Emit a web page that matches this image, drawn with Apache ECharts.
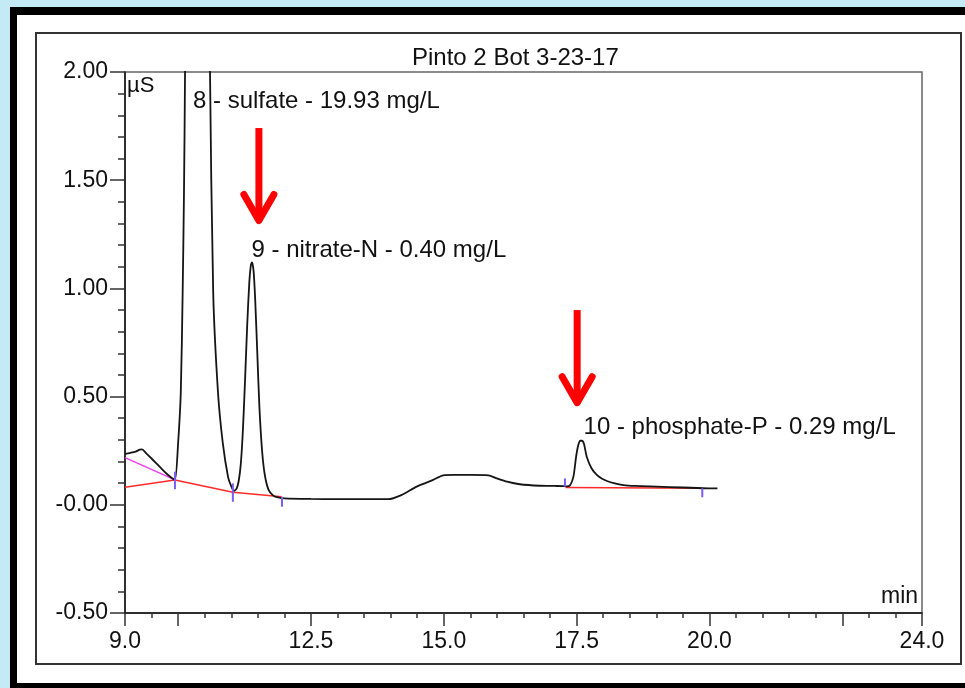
<!DOCTYPE html>
<html>
<head>
<meta charset="utf-8">
<script src="https://cdn.jsdelivr.net/npm/echarts@6/dist/echarts.min.js"></script>
<style>
  html, body { margin: 0; padding: 0; width: 965px; height: 688px; overflow: hidden; background: #c3eaf5; }
  #outer { position: absolute; left: 10px; top: 7px; width: 980px; height: 700px; background: #000; }
  #white { position: absolute; left: 17px; top: 15px; width: 980px; height: 668px; background: #fff; }
  #inner { position: absolute; left: 35px; top: 32px; width: 927px; height: 633px; border: 2px solid #333; box-sizing: border-box; }
  #chart { position: absolute; left: 0; top: 0; width: 965px; height: 688px; }
</style>
</head>
<body>
<div id="outer"></div>
<div id="white"></div>
<div id="inner"></div>
<div id="chart"></div>
<script>
// ---- Data ----
const chartTitle = 'Pinto 2 Bot 3-23-17';
const yUnit = 'µS';
const xUnit = 'min';

const xLabelValues = [9.0, 12.5, 15.0, 17.5, 20.0, 24.0];
const xMajorTickValues = [9.0, 10.0, 12.5, 15.0, 17.5, 20.0, 22.5, 24.0];

// chromatogram signal (time in min, conductivity in µS)
const curveTime = [
  9.00, 9.10, 9.20, 9.28, 9.32, 9.40, 9.50, 9.60, 9.70, 9.80, 9.88, 9.94,
  10.00, 10.05, 10.085, 10.11, 10.13, 10.20, 10.30, 10.37, 10.45, 10.55, 10.60,
  10.66, 10.75, 10.84, 10.94, 11.00, 11.05,
  11.10, 11.14, 11.18, 11.22, 11.26, 11.30, 11.34, 11.37, 11.39, 11.42, 11.45, 11.49, 11.53, 11.58, 11.63, 11.70, 11.78, 11.86,
  12.00, 12.50, 13.00, 13.50, 13.95,
  14.20, 14.49, 14.80, 14.99, 15.20, 15.50, 15.84, 16.00, 16.19, 16.43, 16.81, 17.10, 17.29,
  17.32, 17.38, 17.44, 17.49, 17.53, 17.57, 17.60, 17.64, 17.69, 17.78, 17.88, 17.98, 18.07, 18.20, 18.38, 18.60, 19.00, 19.50, 20.00, 20.15
];
const curveValue = [
  0.235, 0.240, 0.246, 0.255, 0.256, 0.238, 0.214, 0.189, 0.164, 0.140, 0.124, 0.115,
  0.286, 0.52, 0.98, 1.44, 2.0, 5.0, 8.5, 9.3, 8.0, 3.6, 2.0,
  0.98, 0.52, 0.286, 0.128, 0.085, 0.065,
  0.075, 0.11, 0.19, 0.35, 0.58, 0.83, 1.03, 1.11, 1.12, 1.08, 0.95, 0.70, 0.45, 0.25, 0.14, 0.07, 0.045, 0.035,
  0.030, 0.027, 0.026, 0.026, 0.026,
  0.045, 0.084, 0.115, 0.136, 0.138, 0.138, 0.136, 0.122, 0.107, 0.095, 0.088, 0.087, 0.086,
  0.085, 0.092, 0.13, 0.222, 0.275, 0.296, 0.296, 0.28, 0.222, 0.169, 0.138, 0.12, 0.11, 0.10, 0.091, 0.087, 0.084, 0.080, 0.076, 0.076
];

// integration baselines
const redBaseTime1 = [9.00, 9.94, 11.03, 11.95];
const redBaseValue1 = [0.081, 0.115, 0.058, 0.037];
const redBaseTime2 = [17.29, 19.865];
const redBaseValue2 = [0.080, 0.076];
const magentaBaseTime = [9.00, 9.94];
const magentaBaseValue = [0.218, 0.115];

// peak delimiter markers (time, low, high)
const markerTime = [9.94, 11.03, 11.955, 17.28, 19.865];
const markerLow  = [0.072, 0.014, -0.009, 0.084, 0.035];
const markerHigh = [0.153, 0.099, 0.037, 0.122, 0.076];

// peak annotations (left edge time, centre value, text)
const annoTime  = [10.28, 11.38, 17.63];
const annoValue = [1.866, 1.177, 0.356];
const annoText  = ['8 - sulfate - 19.93 mg/L', '9 - nitrate-N - 0.40 mg/L', '10 - phosphate-P - 0.29 mg/L'];

// red arrows (time, top value, tip value)
const arrowTime = [11.52, 17.51];
const arrowTop  = [1.741, 0.90];
const arrowTip  = [1.30, 0.458];

// ---- Build chart ----
const FONT = 'Arial, "Liberation Sans", sans-serif';
const zip = (a, b) => a.map((v, i) => [v, b[i]]);

const chart = echarts.init(document.getElementById('chart'), null, { renderer: 'canvas' });

const option = {
  backgroundColor: 'transparent',
  animation: false,
  title: {
    text: chartTitle,
    left: 407, top: 41,
    textStyle: { fontFamily: FONT, fontSize: 24, fontWeight: 'normal', color: '#111' }
  },
  grid: { left: 125, right: 43, top: 72, bottom: 75, show: true, borderColor: '#666', borderWidth: 1.5, backgroundColor: 'transparent' },
  xAxis: [
    {
      type: 'value', min: 9, max: 24, position: 'bottom', offset: 0,
      axisLine: { show: true, onZero: false, lineStyle: { color: '#111', width: 1.5 } },
      axisTick: { show: true, customValues: xMajorTickValues, length: 13, lineStyle: { color: '#333', width: 1.5 } },
      axisLabel: { show: true, customValues: xLabelValues, margin: 17, fontFamily: FONT, fontSize: 23, color: '#111',
                   formatter: v => v.toFixed(1) },
      splitLine: { show: false }
    },
    {
      type: 'value', min: 9, max: 24, interval: 0.5, position: 'bottom', offset: 0,
      axisLine: { show: false, onZero: false },
      axisTick: { show: true, length: 5, lineStyle: { color: '#333', width: 1.5 } },
      axisLabel: { show: false },
      splitLine: { show: false }
    }
  ],
  yAxis: {
    type: 'value', min: -0.5, max: 2.0, interval: 0.5,
    axisLine: { show: true, onZero: false, lineStyle: { color: '#111', width: 1.5 } },
    axisTick: { show: true, length: 15, lineStyle: { color: '#333', width: 1.5 } },
    minorTick: { show: true, splitNumber: 5, length: 7, lineStyle: { color: '#333', width: 1.5 } },
    axisLabel: { margin: 17, fontFamily: FONT, fontSize: 23, color: '#111',
                 formatter: v => (Math.abs(v) < 1e-9 ? '-0.00' : v.toFixed(2)) },
    splitLine: { show: false }
  },
  graphic: [
    { type: 'text', left: 127, top: 75, style: { text: yUnit, font: '22px ' + FONT, fill: '#111' } },
    { type: 'text', left: 881, top: 585, style: { text: xUnit, font: '23px ' + FONT, fill: '#111' } }
  ],
  series: [
    {
      name: 'baseline-magenta', type: 'line', data: zip(magentaBaseTime, magentaBaseValue),
      showSymbol: false, lineStyle: { color: '#f03cf0', width: 1.5 }, z: 3, silent: true
    },
    {
      name: 'baseline-red-1', type: 'line', data: zip(redBaseTime1, redBaseValue1),
      showSymbol: false, lineStyle: { color: '#ff2a2a', width: 1.5 }, z: 3, silent: true
    },
    {
      name: 'baseline-red-2', type: 'line', data: zip(redBaseTime2, redBaseValue2),
      showSymbol: false, lineStyle: { color: '#ff2a2a', width: 1.5 }, z: 3, silent: true
    },
    {
      name: 'signal', type: 'line', data: zip(curveTime, curveValue),
      showSymbol: false, smooth: 0.25, clip: true,
      lineStyle: { color: '#151515', width: 1.8 }, z: 4, silent: true
    },
    {
      name: 'markers', type: 'custom', silent: true, z: 5,
      data: markerTime.map((t, i) => [t, markerLow[i], markerHigh[i]]),
      renderItem: (params, api) => {
        const p1 = api.coord([api.value(0), api.value(1)]);
        const p2 = api.coord([api.value(0), api.value(2)]);
        return { type: 'line', shape: { x1: p1[0], y1: p1[1], x2: p2[0], y2: p2[1] },
                 style: { stroke: '#7d5cf5', lineWidth: 2 } };
      }
    },
    {
      name: 'arrows', type: 'custom', silent: true, z: 6, clip: false,
      data: arrowTime.map((t, i) => [t, arrowTop[i], arrowTip[i]]),
      renderItem: (params, api) => {
        const top = api.coord([api.value(0), api.value(1)]);
        const tip = api.coord([api.value(0), api.value(2)]);
        return { type: 'group', children: [
          { type: 'line', shape: { x1: top[0], y1: top[1], x2: tip[0], y2: tip[1] - 4 },
            style: { stroke: '#ff0000', lineWidth: 7, lineCap: 'butt' } },
          { type: 'polyline', shape: { points: [[tip[0] - 15, tip[1] - 29], [tip[0], tip[1] - 3], [tip[0] + 15, tip[1] - 29]] },
            style: { stroke: '#ff0000', fill: null, lineWidth: 7, lineCap: 'round', lineJoin: 'round' } }
        ] };
      }
    },
    {
      name: 'annotations', type: 'custom', silent: true, z: 2, clip: false,
      data: annoTime.map((t, i) => [t, annoValue[i]]),
      renderItem: (params, api) => {
        const p = api.coord([api.value(0), api.value(1)]);
        return { type: 'text', x: p[0], y: p[1],
                 style: { text: annoText[params.dataIndex], font: '24px ' + FONT, fill: '#111',
                          align: 'left', verticalAlign: 'middle' } };
      }
    }
  ]
};
chart.setOption(option);
</script>
</body>
</html>
